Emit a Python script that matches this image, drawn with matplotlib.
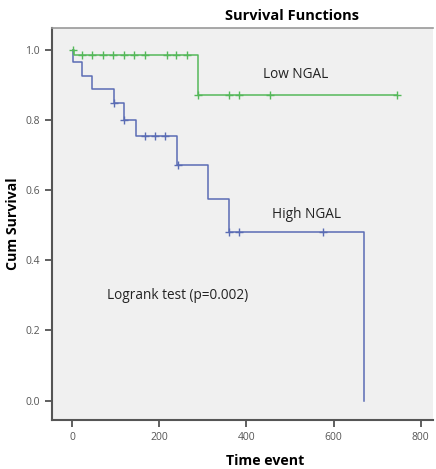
import matplotlib
matplotlib.use("Agg")
import matplotlib.pyplot as plt

# Kaplan-Meier step data
high_t = [2, 3, 23, 47, 96, 119, 146, 240, 313, 360, 671]
high_s = [1.0, 0.964, 0.925, 0.887, 0.849, 0.800, 0.755, 0.671, 0.574, 0.479, 0.0]
high_cens_t = [96, 119, 167, 190, 213, 243, 360, 384, 576]
high_cens_s = [0.849, 0.800, 0.755, 0.755, 0.755, 0.671, 0.479, 0.479, 0.479]

low_t = [2, 5, 288, 745]
low_s = [1.0, 0.984, 0.872, 0.872]
low_cens_t = [3, 22, 45, 72, 95, 119, 143, 167, 217, 239, 265, 288, 361, 384, 455, 745]
low_cens_s = [1.0] + [0.984] * 10 + [0.872] * 5

xticks = [0, 200, 400, 600, 800]
yticks = [0.0, 0.2, 0.4, 0.6, 0.8, 1.0]

blue = "#5a6cb4"
green = "#55b85a"

plt.rcParams["font.family"] = ["Open Sans", "DejaVu Sans"]

fig = plt.figure(figsize=(4.36, 4.69), dpi=100)
ax = fig.add_axes([0.119, 0.1045, 0.874, 0.8355])
ax.set_facecolor("#f0f0f0")

ax.step(high_t, high_s, where="post", color=blue, lw=1.1)
ax.plot(high_cens_t, high_cens_s, "+", color=blue, ms=5.5, mew=1.0)
ax.step(low_t, low_s, where="post", color=green, lw=1.1)
ax.plot(low_cens_t, low_cens_s, "+", color=green, ms=5.5, mew=1.0)

ax.set_xlim(-46, 828)
ax.set_ylim(-0.055, 1.061)
ax.set_xticks(xticks)
ax.set_yticks(yticks)
ax.set_yticklabels([f"{v:.1f}" for v in yticks])
ax.tick_params(direction="out", length=5, width=1.2, color="#444444",
               labelsize=7.5, labelcolor="#555555")

for s in ["left", "bottom"]:
    ax.spines[s].set_color("#555555")
    ax.spines[s].set_linewidth(1.5)
ax.spines["top"].set_color("#999999")
ax.spines["top"].set_linewidth(1.2)
ax.spines["right"].set_visible(False)

ax.text(438, 0.93, "Low NGAL", fontsize=9.8, va="center", color="#222222")
ax.text(458, 0.531, "High NGAL", fontsize=9.8, va="center", color="#222222")
ax.text(80, 0.30, "Logrank test (p=0.002)", fontsize=9.8, va="center", color="#222222")

fig.text(292 / 436, 1 - 16 / 469, "Survival Functions", ha="center", va="center",
         fontsize=10.5, fontweight="bold")
fig.text(265 / 436, 1 - 461 / 469, "Time event", ha="center", va="center",
         fontsize=10.2, fontweight="bold")
fig.text(13 / 436, 1 - 224 / 469, "Cum Survival", ha="center", va="center",
         rotation=90, fontsize=10.2, fontweight="bold")

fig.savefig("out.png", dpi=100)
